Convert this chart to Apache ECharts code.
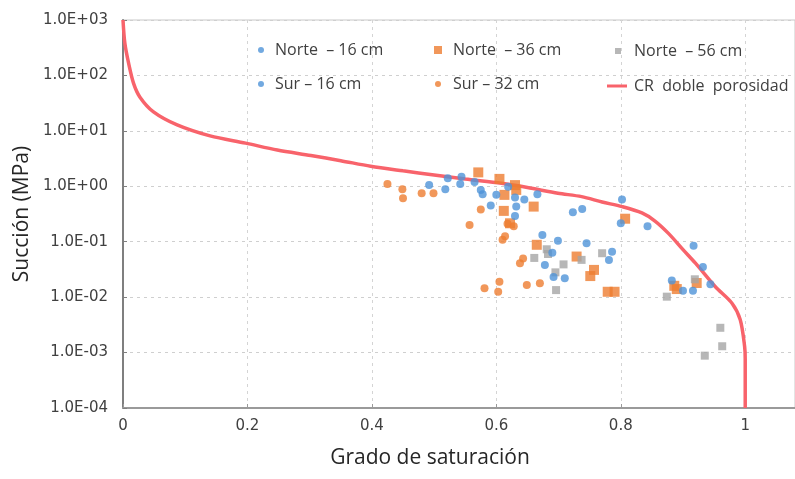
<!DOCTYPE html>
<html>
<head>
<meta charset="utf-8">
<script src="https://cdn.jsdelivr.net/npm/echarts@6/dist/echarts.min.js"></script>
<style>
  html, body { margin: 0; padding: 0; background: #fff; }
  #chart { width: 795px; height: 479px; }
</style>
</head>
<body>
<div id="chart"></div>
<script>
// series names, as in the legend
const seriesNames = ['Norte  \u2013 16 cm', 'Sur \u2013 16 cm', 'Norte  \u2013 36 cm', 'Sur \u2013 32 cm', 'Norte  \u2013 56 cm', 'CR  doble  porosidad'];

// [grado de saturacion, succion MPa]
const norte16 = [[0.492, 1.05], [0.518, 0.88], [0.522, 1.39], [0.544, 1.49], [0.542, 1.1], [0.565, 1.2], [0.575, 0.86],
  [0.578, 0.72], [0.591, 0.45], [0.6, 0.70], [0.619, 0.98], [0.63, 0.63], [0.632, 0.43], [0.645, 0.58], [0.63, 0.29], [0.666, 0.72]];
const sur16 = [[0.674, 0.132], [0.699, 0.104], [0.69, 0.063], [0.678, 0.038], [0.692, 0.023], [0.71, 0.022], [0.723, 0.34],
  [0.738, 0.39], [0.745, 0.094], [0.786, 0.066], [0.781, 0.047], [0.802, 0.58], [0.80, 0.215], [0.843, 0.19], [0.917, 0.085],
  [0.932, 0.035], [0.944, 0.017], [0.882, 0.020], [0.9, 0.013], [0.916, 0.013]];
const norte36 = [[0.571, 1.78], [0.605, 1.36], [0.63, 1.05], [0.632, 0.86], [0.613, 0.70], [0.612, 0.36], [0.622, 0.215],
  [0.66, 0.43], [0.665, 0.088], [0.729, 0.054], [0.757, 0.031], [0.751, 0.024], [0.779, 0.0125], [0.79, 0.0125], [0.807, 0.26],
  [0.886, 0.016], [0.89, 0.014], [0.922, 0.018]];
const sur32 = [[0.425, 1.1], [0.449, 0.88], [0.45, 0.61], [0.48, 0.75], [0.499, 0.75], [0.557, 0.20], [0.575, 0.38], [0.618, 0.21],
  [0.628, 0.19], [0.61, 0.108], [0.614, 0.125], [0.638, 0.041], [0.643, 0.05], [0.581, 0.0145], [0.605, 0.019], [0.603, 0.0125],
  [0.649, 0.0166], [0.67, 0.0178]];
const norte56 = [[0.661, 0.051], [0.681, 0.073], [0.683, 0.06], [0.695, 0.028], [0.708, 0.039], [0.696, 0.0134], [0.737, 0.047],
  [0.77, 0.062], [0.874, 0.0102], [0.919, 0.021], [0.96, 0.0028], [0.963, 0.0013], [0.935, 0.00088]];
const curvaCR = [[0, 1000], [0.003, 380], [0.009, 166], [0.017, 72], [0.027, 41], [0.049, 22], [0.087, 12.8], [0.14, 8.1],
  [0.197, 6.0], [0.248, 4.5], [0.302, 3.6], [0.35, 2.9], [0.398, 2.3], [0.45, 1.9], [0.5, 1.6], [0.55, 1.35], [0.608, 1.13],
  [0.65, 0.95], [0.699, 0.75], [0.737, 0.65], [0.77, 0.52], [0.802, 0.43], [0.834, 0.33], [0.855, 0.236], [0.877, 0.14],
  [0.9, 0.072], [0.92, 0.041], [0.952, 0.0154], [0.979, 0.0077], [0.992, 0.0039], [0.999, 0.0013], [1.0, 0.00076], [1.0, 0.0001]];

const xTicks = [0, 0.2, 0.4, 0.6, 0.8, 1];

const BLUE = '#4f93d8';
const ORANGE = '#ed7d31';
const GREY = '#a5a5a5';
const RED = '#f8636b';

function sciLabel(v) {
  const e = Math.round(Math.log10(v));
  const s = e < 0 ? '-' : '+';
  return '1.0E' + s + String(Math.abs(e)).padStart(2, '0');
}

// one legend per item so the 3 x 2 layout sits where the original has it
function legendItem(name, left, top, icon, w, h, color, pad) {
  return {
    data: [{ name: name, icon: icon, itemStyle: { color: color } }],
    left: left, top: top, padding: 0,
    itemWidth: w, itemHeight: h,
    selectedMode: false,
    textStyle: { fontFamily: 'Open Sans', fontSize: 16, color: '#404040', padding: [8, 0, 0, pad] }
  };
}

const chart = echarts.init(document.getElementById('chart'));
chart.setOption({
  animation: false,
  grid: { left: 123, right: 0, top: 20, bottom: 71, show: true, borderColor: '#c8c8c8', borderWidth: 1 },
  legend: [
    legendItem(seriesNames[0], 258, 42, 'circle', 6, 6, BLUE, 6),
    legendItem(seriesNames[2], 434, 42, 'rect', 8, 8, ORANGE, 6),
    legendItem(seriesNames[4], 615, 43, 'rect', 6, 6, GREY, 8),
    legendItem(seriesNames[1], 258, 76, 'circle', 6, 6, BLUE, 6),
    legendItem(seriesNames[3], 435, 76, 'circle', 6, 6, ORANGE, 7),
    legendItem(seriesNames[5], 607, 78, 'rect', 20, 3, RED, 2)
  ],
  xAxis: {
    type: 'value', min: 0, max: 1.08, interval: 0.2,
    name: 'Grado de saturación', nameLocation: 'middle', nameGap: 40,
    nameTextStyle: { fontFamily: 'Open Sans', fontSize: 21, color: '#262626', padding: [0, 58, 0, 0] },
    axisLine: { lineStyle: { color: '#9a9a9a', width: 2 } },
    axisTick: { inside: true, length: 4, lineStyle: { color: '#9a9a9a' } },
    axisLabel: {
      showMaxLabel: false, margin: 11,
      fontFamily: 'DejaVu Sans', fontSize: 15, color: '#404040',
      formatter: function (v) { return xTicks.indexOf(Math.round(v * 10) / 10) >= 0 ? String(Math.round(v * 10) / 10) : ''; }
    },
    splitLine: { lineStyle: { color: '#d4d4d4', type: [3, 4] } }
  },
  yAxis: {
    type: 'log', logBase: 10, min: 0.0001, max: 1000, interval: 1, splitNumber: 7,
    name: 'Succión (MPa)', nameLocation: 'middle', nameGap: 90,
    nameTextStyle: { fontFamily: 'Open Sans', fontSize: 21, color: '#262626' },
    axisLine: { show: true, lineStyle: { color: '#7f7f7f', width: 2 } },
    axisTick: { show: true, inside: true, length: 4, lineStyle: { color: '#7f7f7f' } },
    axisLabel: { fontFamily: 'DejaVu Sans', fontSize: 15, color: '#404040', margin: 15, formatter: sciLabel },
    splitLine: { show: true, lineStyle: { color: '#cfcfcf', type: [3, 4] } },
    minorTick: { show: false }
  },
  series: [
    { name: seriesNames[5], type: 'line', data: curvaCR, showSymbol: false, smooth: 0.3,
      lineStyle: { color: RED, width: 3.5 }, itemStyle: { color: RED }, z: 1 },
    { name: seriesNames[0], type: 'scatter', data: norte16, symbol: 'circle', symbolSize: 8, itemStyle: { color: BLUE }, z: 3 },
    { name: seriesNames[1], type: 'scatter', data: sur16, symbol: 'circle', symbolSize: 8, itemStyle: { color: BLUE }, z: 3 },
    { name: seriesNames[2], type: 'scatter', data: norte36, symbol: 'rect', symbolSize: 10, itemStyle: { color: ORANGE }, z: 2 },
    { name: seriesNames[3], type: 'scatter', data: sur32, symbol: 'circle', symbolSize: 8, itemStyle: { color: ORANGE }, z: 3 },
    { name: seriesNames[4], type: 'scatter', data: norte56, symbol: 'rect', symbolSize: 8, itemStyle: { color: GREY }, z: 2 }
  ]
});
window.addEventListener('resize', () => chart.resize());
</script>
</body>
</html>
